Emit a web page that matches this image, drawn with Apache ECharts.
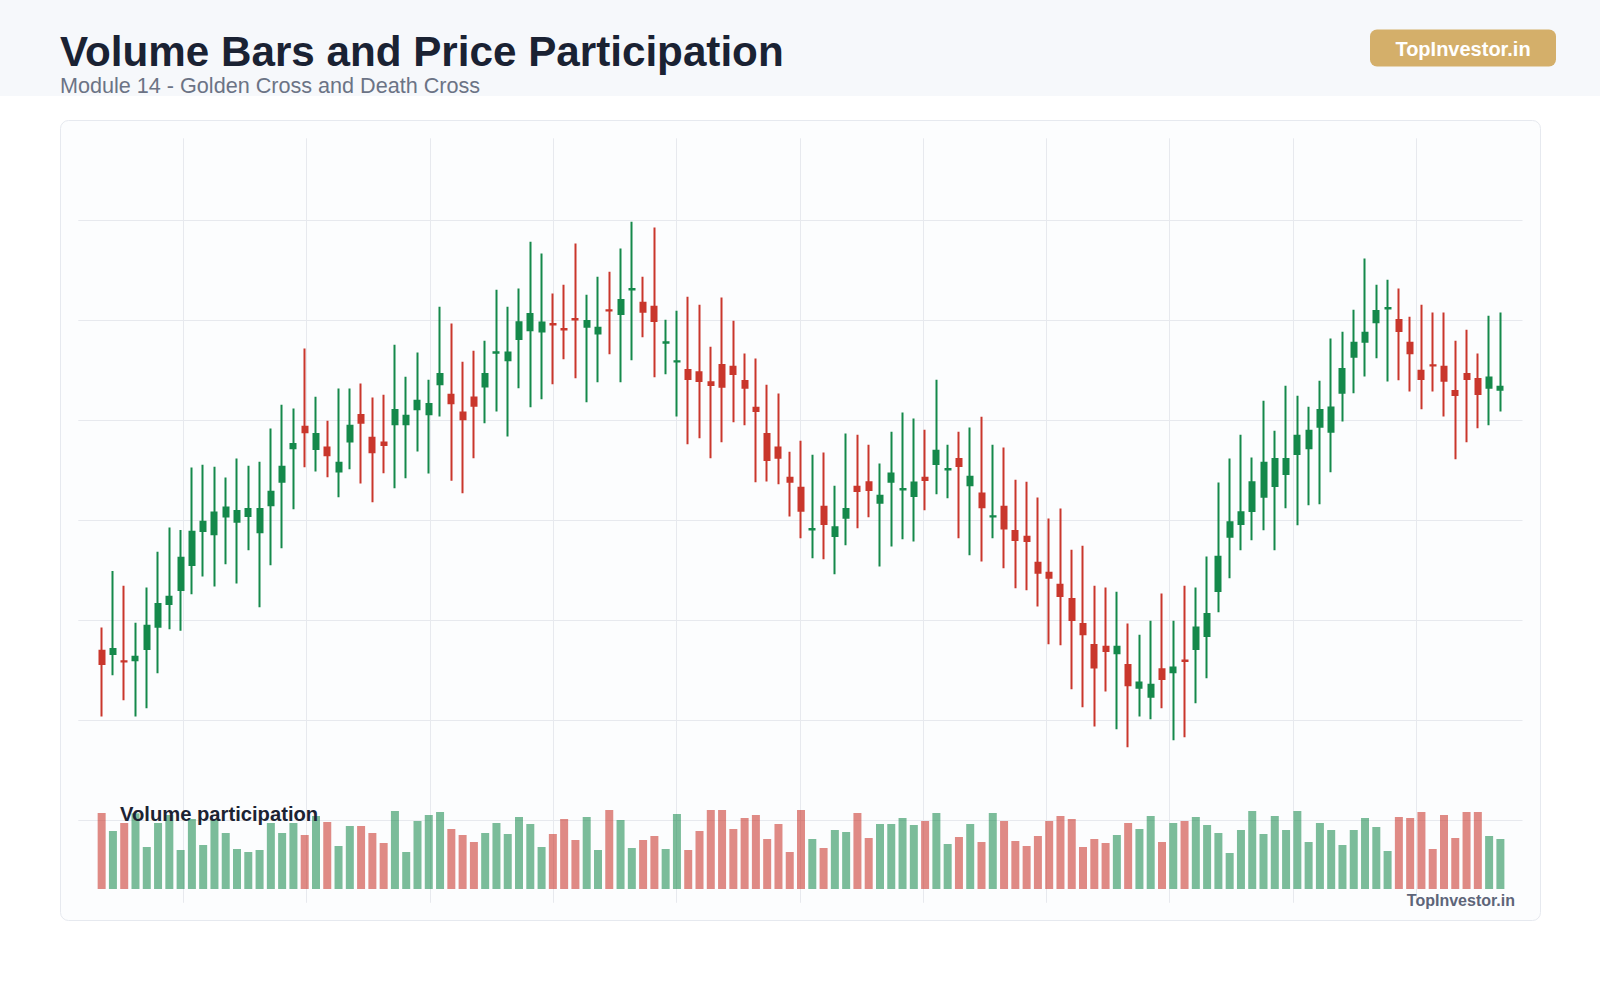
<!DOCTYPE html>
<html>
<head>
<meta charset="utf-8">
<title>Volume Bars and Price Participation</title>
<script src="https://cdn.jsdelivr.net/npm/echarts@6/dist/echarts.min.js"></script>
<style>
  html, body { margin: 0; padding: 0; background: #ffffff; }
  #chart { width: 1600px; height: 1000px; }
</style>
</head>
<body>
<div id="chart"></div>
<script>
// candles, one entry per session (prices)
const opens = [
  47.4, 46.5, 44.45, 44.7, 47.9, 54.1, 60.5, 64.4, 71.4, 80.9,
  80.0, 85.0, 83.5, 85.1, 80.6, 88.1, 94.7, 104.1, 110.1, 103.9,
  104.3, 97.6, 106.0, 113.4, 107.0, 105.7, 110.8, 110.8, 115.0, 113.6,
  122.0, 119.1, 114.1, 118.3, 121.4, 130.85, 128.7, 134.7, 137.1, 136.8,
  138.85, 137.45, 140.25, 138.1, 136.2, 142.75, 141.7, 148.55, 144.8, 143.7,
  133.65, 128.35, 126.0, 125.4, 122.6, 127.4, 126.9, 122.9, 115.4, 108.1,
  104.3, 95.8, 93.0, 81.35, 87.7, 79.5, 84.6, 93.3, 94.6, 88.8,
  94.7, 92.55, 90.7, 95.8, 99.7, 98.15, 101.1, 93.7, 91.4, 84.95,
  87.7, 80.9, 79.3, 72.0, 69.2, 65.9, 61.9, 54.9, 49.0, 48.5,
  46.7, 43.4, 37.0, 34.5, 42.2, 41.4, 44.65, 47.9, 51.5, 64.1,
  79.3, 82.9, 86.5, 90.5, 93.5, 96.9, 102.5, 104.1, 110.1, 108.7,
  119.6, 129.7, 133.9, 139.4, 143.25, 140.0, 133.6, 125.8, 127.35, 126.9,
  120.1, 124.9, 123.5, 121.0, 120.5
];
const closes = [
  43.7, 47.9, 44.35, 45.7, 54.4, 60.5, 62.5, 73.4, 80.7, 83.5,
  86.1, 87.5, 86.5, 87.1, 87.1, 91.9, 98.9, 105.3, 108.6, 108.1,
  102.1, 100.0, 110.4, 111.2, 103.0, 105.0, 114.8, 113.2, 117.4, 116.5,
  124.9, 116.7, 112.2, 116.0, 124.9, 130.95, 130.9, 139.4, 141.7, 139.3,
  138.75, 137.35, 140.15, 139.7, 137.8, 142.65, 145.6, 148.65, 142.3, 139.7,
  133.75, 128.45, 123.5, 122.9, 121.8, 121.3, 124.9, 121.0, 114.5, 100.8,
  101.4, 94.7, 86.6, 81.45, 82.9, 82.0, 87.1, 92.1, 92.4, 90.8,
  97.0, 92.65, 94.5, 95.2, 103.4, 98.25, 99.1, 96.1, 87.6, 85.05,
  81.6, 78.4, 78.1, 69.2, 67.8, 62.7, 56.0, 52.0, 42.7, 47.3,
  48.5, 37.7, 38.5, 37.9, 39.5, 42.7, 44.55, 53.9, 57.7, 73.7,
  83.4, 86.2, 94.6, 100.0, 101.1, 101.1, 107.6, 109.0, 114.8, 115.5,
  126.3, 133.6, 136.4, 142.5, 143.35, 136.9, 130.7, 123.5, 127.25, 123.0,
  119.0, 123.5, 119.3, 123.9, 121.3
];
const lows = [
  29.0, 40.5, 33.5, 29.0, 31.3, 41.1, 53.4, 53.0, 63.2, 68.2,
  65.4, 71.6, 66.2, 75.5, 59.6, 71.3, 76.1, 87.0, 98.8, 97.6,
  96.0, 90.4, 98.2, 94.2, 89.0, 97.1, 92.9, 95.7, 103.2, 97.0,
  113.0, 95.0, 91.5, 101.3, 111.1, 114.4, 107.4, 120.9, 115.6, 117.8,
  122.0, 129.0, 123.7, 117.0, 122.6, 130.4, 122.6, 128.7, 135.2, 124.0,
  124.8, 113.0, 105.2, 106.9, 101.3, 105.8, 111.4, 110.5, 94.6, 94.8,
  94.0, 85.0, 78.9, 73.3, 73.0, 68.8, 76.9, 81.7, 84.8, 71.0,
  76.6, 78.6, 78.0, 86.7, 91.2, 90.1, 78.9, 74.1, 72.4, 78.9,
  70.5, 64.9, 64.3, 59.8, 49.2, 48.9, 36.6, 31.6, 26.2, 36.0,
  25.4, 20.4, 29.0, 28.2, 31.3, 22.3, 23.2, 32.7, 39.7, 58.2,
  67.7, 75.5, 78.3, 81.1, 75.5, 87.3, 82.5, 88.1, 88.4, 97.4,
  111.6, 119.5, 124.2, 129.3, 122.8, 123.1, 120.0, 115.0, 120.0, 113.0,
  101.0, 105.8, 109.7, 110.5, 114.4
];
const highs = [
  53.9, 69.7, 65.6, 55.2, 65.1, 75.1, 81.9, 81.2, 98.7, 99.5,
  98.9, 95.9, 101.2, 99.2, 100.3, 109.6, 116.3, 115.2, 132.0, 118.5,
  111.8, 120.8, 120.8, 122.2, 118.3, 119.1, 133.1, 124.1, 130.9, 123.3,
  143.7, 139.0, 128.3, 131.4, 134.2, 148.5, 143.7, 148.8, 161.9, 158.6,
  147.4, 149.9, 161.4, 147.1, 152.1, 153.5, 160.0, 167.5, 152.1, 165.9,
  140.1, 142.6, 146.5, 144.3, 132.5, 146.3, 139.8, 130.6, 129.2, 121.9,
  119.4, 103.1, 106.2, 102.3, 102.9, 93.6, 108.2, 107.9, 105.1, 99.8,
  108.7, 114.1, 112.4, 109.3, 123.3, 105.1, 108.7, 109.9, 112.9, 105.1,
  104.3, 95.3, 94.7, 90.3, 84.4, 87.2, 75.7, 76.8, 65.6, 65.1,
  63.9, 55.0, 51.9, 55.8, 63.4, 55.8, 65.6, 65.1, 73.8, 94.5,
  101.2, 107.9, 101.5, 117.4, 109.0, 121.6, 118.8, 115.7, 123.0, 134.8,
  136.7, 142.9, 157.2, 149.9, 151.3, 148.8, 140.9, 144.3, 142.1, 142.1,
  134.2, 137.3, 130.6, 141.2, 142.1
];
const volumes = [
  2280, 1740, 1980, 2270, 1260, 1980, 2220, 1170, 2100, 1320,
  2100, 1680, 1200, 1110, 1170, 1980, 1680, 1980, 1620, 2190,
  2010, 1290, 1890, 1890, 1680, 1380, 2340, 1110, 2040, 2220,
  2310, 1800, 1620, 1410, 1680, 1980, 1650, 2160, 1950, 1260,
  1650, 2100, 1470, 2160, 1170, 2370, 2070, 1230, 1470, 1590,
  1200, 2250, 1170, 1740, 2370, 2370, 1800, 2130, 2220, 1500,
  1950, 1110, 2370, 1500, 1230, 1770, 1710, 2280, 1530, 1950,
  1950, 2130, 1920, 2040, 2280, 1350, 1560, 1950, 1410, 2280,
  2040, 1440, 1290, 1590, 2040, 2190, 2100, 1260, 1500, 1380,
  1620, 1980, 1800, 2190, 1410, 1980, 2040, 2160, 1920, 1680,
  1080, 1770, 2340, 1650, 2190, 1770, 2340, 1410, 1980, 1770,
  1320, 1770, 2130, 1860, 1140, 2160, 2130, 2310, 1200, 2220,
  1530, 2310, 2310, 1590, 1500
];

const UP = '#15894b';
const DOWN = '#c9372c';
const UP_VOL = 'rgba(21, 137, 75, 0.56)';
const DOWN_VOL = 'rgba(201, 55, 44, 0.58)';
const FONT = '"Liberation Sans", Arial, Helvetica, sans-serif';
const GRID_LINE = '#e7e9ee';

const candleData = opens.map((o, i) => [i, o, closes[i], lows[i], highs[i]]);
const volumeData = volumes.map((v, i) => ({
  value: [i, v],
  itemStyle: { color: closes[i] >= opens[i] ? UP_VOL : DOWN_VOL },
}));

const chart = echarts.init(document.getElementById('chart'), null, { renderer: 'svg' });

const option = {
  animation: false,
  backgroundColor: '#ffffff',
  graphic: [
    { type: 'rect', z: -20, shape: { x: 0, y: 0, width: 1600, height: 96 }, style: { fill: '#f6f8fb' } },
    {
      type: 'rect', z: -20,
      shape: { x: 60.5, y: 120.5, width: 1480, height: 800, r: 8 },
      style: { fill: '#fcfdfe', stroke: '#e6e9ef', lineWidth: 1 },
    },
    {
      type: 'text', z: 50, x: 60, y: 51.5,
      style: { text: 'Volume Bars and Price Participation', fill: '#1a2233', font: 'bold 42.2px ' + FONT, verticalAlign: 'middle' },
    },
    {
      type: 'text', z: 50, x: 60, y: 85.5,
      style: { text: 'Module 14 - Golden Cross and Death Cross', fill: '#6b7385', font: '21.6px ' + FONT, verticalAlign: 'middle' },
    },
    {
      type: 'rect', z: 40,
      shape: { x: 1370, y: 29.5, width: 186, height: 37, r: 7 },
      style: { fill: '#d4af6a' },
    },
    {
      type: 'text', z: 50, x: 1463, y: 49,
      style: { text: 'TopInvestor.in', fill: '#ffffff', font: 'bold 20px ' + FONT, align: 'center', verticalAlign: 'middle' },
    },
    {
      type: 'text', z: 50, x: 120, y: 813.5,
      style: { text: 'Volume participation', fill: '#1c2333', font: 'bold 20.2px ' + FONT, verticalAlign: 'middle' },
    },
    {
      type: 'text', z: 50, x: 1515, y: 900.5,
      style: { text: 'TopInvestor.in', fill: '#5e6579', font: 'bold 16px ' + FONT, align: 'right', verticalAlign: 'middle' },
    },
  ],
  grid: [
    { left: 78.3, top: 220, width: 1444.2, height: 600 },
    { left: 78.3, top: 789, width: 1444.2, height: 100 },
    { left: 183.3, top: 138.3, width: 1233, height: 764.5 },
  ],
  xAxis: [
    {
      gridIndex: 0, type: 'value', min: -2.07, max: 125.96,
      axisLine: { show: false }, axisTick: { show: false }, axisLabel: { show: false }, splitLine: { show: false },
    },
    {
      gridIndex: 1, type: 'value', min: -2.07, max: 125.96,
      axisLine: { show: false }, axisTick: { show: false }, axisLabel: { show: false }, splitLine: { show: false },
    },
    {
      gridIndex: 2, type: 'value', min: 0, max: 10, interval: 1,
      axisLine: { show: false }, axisTick: { show: false }, axisLabel: { show: false },
      splitLine: { show: true, lineStyle: { color: GRID_LINE, width: 1 } },
    },
  ],
  yAxis: [
    {
      gridIndex: 0, type: 'value', min: 0, max: 168, interval: 28,
      axisLine: { show: false }, axisTick: { show: false }, axisLabel: { show: false },
      splitLine: { show: true, lineStyle: { color: GRID_LINE, width: 1 } },
    },
    {
      gridIndex: 1, type: 'value', min: 0, max: 3000,
      axisLine: { show: false }, axisTick: { show: false }, axisLabel: { show: false }, splitLine: { show: false },
    },
    {
      gridIndex: 2, type: 'value', min: 0, max: 1,
      axisLine: { show: false }, axisTick: { show: false }, axisLabel: { show: false }, splitLine: { show: false },
    },
  ],
  series: [
    {
      name: 'Price',
      type: 'candlestick',
      xAxisIndex: 0,
      yAxisIndex: 0,
      barWidth: 5.5,
      encode: { x: 0, y: [1, 2, 3, 4] },
      itemStyle: {
        color: UP,
        color0: DOWN,
        borderColor: UP,
        borderColor0: DOWN,
        borderWidth: 2,
      },
      data: candleData,
    },
    {
      name: 'Volume',
      type: 'bar',
      xAxisIndex: 1,
      yAxisIndex: 1,
      barWidth: 8,
      data: volumeData,
    },
  ],
};

chart.setOption(option);
</script>
</body>
</html>
